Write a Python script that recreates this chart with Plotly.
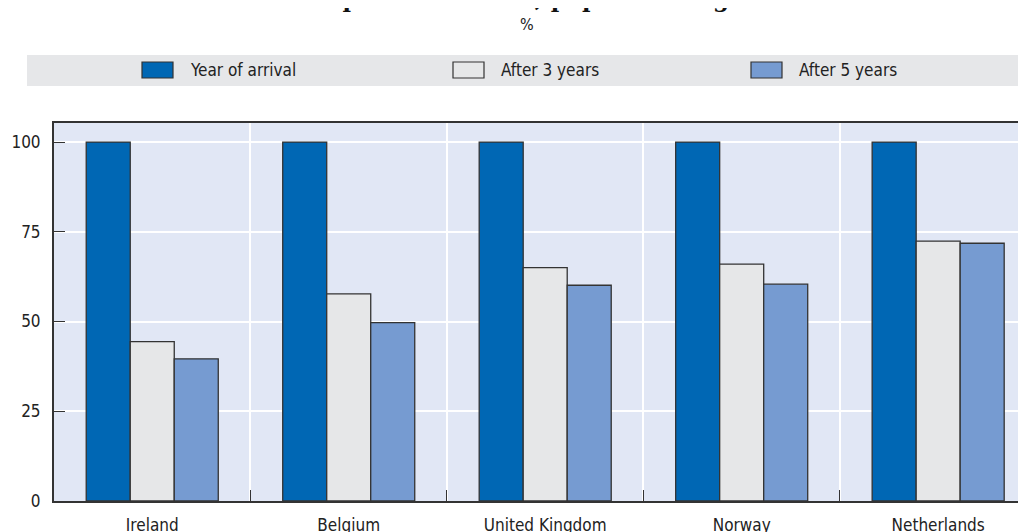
import plotly.graph_objects as go

countries = ["Ireland", "Belgium", "United Kingdom", "Norway", "Netherlands"]
year_of_arrival = [100, 100, 100, 100, 100]
after_3_years = [44.4, 57.7, 65.0, 66.0, 72.4]
after_5_years = [39.6, 49.7, 60.1, 60.4, 71.8]
series_names = ["Year of arrival", "After 3 years", "After 5 years"]
y_ticks = [0, 25, 50, 75, 100]
title_text = "in selected European countries, population aged 15 and over"

colors = ["#0067b4", "#e6e7e8", "#769bd1"]
FONT = "DejaVu Sans Condensed, sans-serif"
OFF = 8  # the page body margin shifts the figure by this many pixels
W, H = 1026 - OFF, 532
L, R, T, B = 54 - OFF, 0, 123 - OFF, H - (501 - OFF)


def px_x(x):
    """Page pixel x -> paper x"""
    return (x - OFF - L) / (W - L - R)


def px_y(y):
    """Page pixel y -> paper y"""
    return (H - B - (y - OFF)) / (H - T - B)


fig = go.Figure()
for name, values, color in zip(series_names, [year_of_arrival, after_3_years, after_5_years], colors):
    fig.add_trace(go.Bar(x=countries, y=values, name=name, marker_color=color,
                         marker_line=dict(color="#333333", width=1.3), showlegend=False))

# Legend band drawn by hand so the boxes look like the original
shapes = [dict(type="rect", xref="paper", yref="paper", x0=px_x(27), x1=px_x(1030), y0=px_y(86), y1=px_y(55),
               fillcolor="#e6e7e9", line_width=0, layer="below")]
annotations = []
box_left = [142, 453, 751]
for name, color, bx in zip(series_names, colors, box_left):
    shapes.append(dict(type="rect", xref="paper", yref="paper", x0=px_x(bx), x1=px_x(bx + 31),
                       y0=px_y(78), y1=px_y(62), fillcolor=color, line=dict(color="#333333", width=1.2)))
    annotations.append(dict(text=name, xref="paper", yref="paper", x=px_x(bx + 46), y=px_y(70),
                            xanchor="left", yanchor="middle", showarrow=False,
                            font=dict(family=FONT, size=17, color="#222222")))

annotations.append(dict(text="%", xref="paper", yref="paper", x=px_x(527), y=px_y(25), showarrow=False,
                        xanchor="center", yanchor="middle", font=dict(family=FONT, size=16, color="#222222")))
annotations.append(dict(text=title_text, xref="paper", yref="paper", x=px_x(526), y=px_y(14),
                        xanchor="center", yanchor="bottom", showarrow=False,
                        font=dict(family="DejaVu Serif", size=23, color="#111111", weight="bold")))

fig.update_layout(
    width=W, height=H, margin=dict(l=L, r=R, t=T, b=B),
    barmode="group", bargap=0.328, bargroupgap=0,
    paper_bgcolor="white", plot_bgcolor="#e1e7f5",
    font=dict(family=FONT, size=17, color="#222222"),
    shapes=shapes, annotations=annotations,
)
fig.update_xaxes(range=[-0.5, 4.447], tickson="boundaries", ticks="inside", ticklen=11, tickcolor="#333333",
                 showgrid=True, gridcolor="white", gridwidth=1.5, showline=True, linecolor="#333333",
                 linewidth=2, mirror=True, ticklabelstandoff=8)
fig.update_yaxes(range=[0, 105.3], tickvals=y_ticks, ticks="inside", ticklen=11, tickcolor="#333333",
                 showgrid=True, gridcolor="white", gridwidth=1.5, showline=True, linecolor="#333333",
                 linewidth=2, zeroline=False, ticklabelstandoff=8)

fig.write_html("out.html")
